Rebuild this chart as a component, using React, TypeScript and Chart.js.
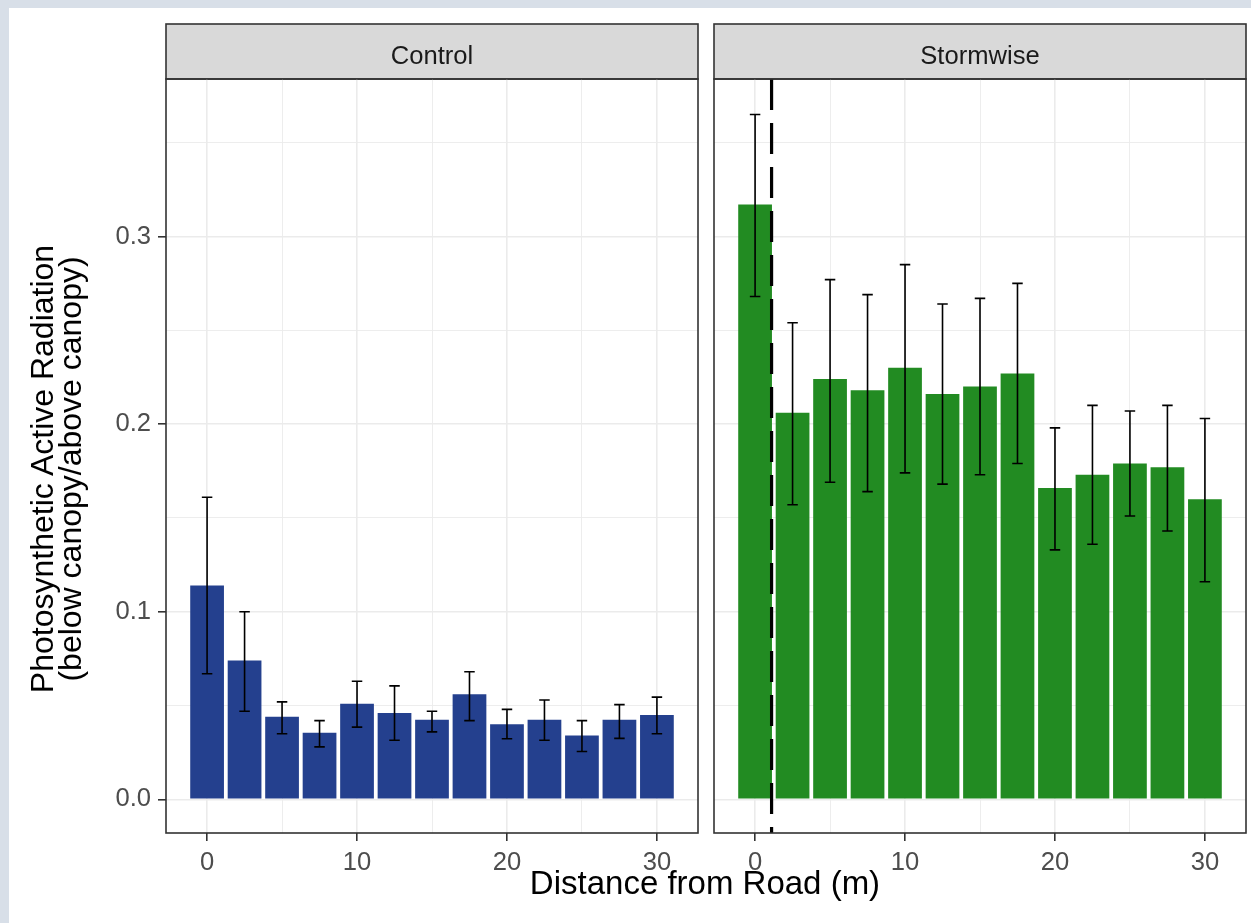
import React, { useEffect, useRef } from "react";
import { Chart, registerables } from "chart.js";

Chart.register(...registerables);

// ---------------- data ----------------
const panelNames = ["Control", "Stormwise"];
const distances = [0, 2.5, 5, 7.5, 10, 12.5, 15, 17.5, 20, 22.5, 25, 27.5, 30];

const controlMean = [0.114, 0.074, 0.044, 0.0355, 0.051, 0.046, 0.0425, 0.056, 0.040, 0.0425, 0.034, 0.0425, 0.045];
const controlLower = [0.067, 0.047, 0.035, 0.028, 0.0385, 0.0315, 0.036, 0.042, 0.0323, 0.0315, 0.0255, 0.0325, 0.035];
const controlUpper = [0.161, 0.100, 0.052, 0.042, 0.063, 0.0605, 0.047, 0.068, 0.048, 0.053, 0.042, 0.0505, 0.0545];

const stormMean = [0.317, 0.206, 0.224, 0.218, 0.230, 0.216, 0.220, 0.227, 0.166, 0.173, 0.179, 0.177, 0.160];
const stormLower = [0.268, 0.157, 0.169, 0.164, 0.174, 0.168, 0.173, 0.179, 0.133, 0.136, 0.151, 0.143, 0.116];
const stormUpper = [0.365, 0.254, 0.277, 0.269, 0.285, 0.264, 0.267, 0.275, 0.198, 0.210, 0.207, 0.210, 0.203];

const roadLineX = 1.1;

const xMajorTicks = [0, 10, 20, 30];
const yMajorTicks = [0, 0.1, 0.2, 0.3];
const xLimits = [-2.74, 32.74];
const yLimits = [-0.0179, 0.3839];

const yTitle = ["Photosynthetic Active Radiation", "(below canopy/above canopy)"];
const xTitle = "Distance from Road (m)";

// ---------------- styling ----------------
const FONT = '"Liberation Sans", Arial, Helvetica, sans-serif';
const STRIP_TOP = 24;

const isMajor = (v: number, list: number[]) => list.some((m) => Math.abs(m - v) < 1e-6);

const decorPlugin = {
  id: "panelDecor",
  beforeDraw(chart: any, _args: any, opts: any) {
    const { ctx, chartArea } = chart;
    const { left, right, top } = chartArea;
    ctx.save();
    ctx.fillStyle = "#d9d9d9";
    ctx.fillRect(left, STRIP_TOP, right - left, top - STRIP_TOP);
    ctx.strokeStyle = "#333333";
    ctx.lineWidth = 1.6;
    ctx.strokeRect(left, STRIP_TOP, right - left, top - STRIP_TOP);
    ctx.fillStyle = "#1a1a1a";
    ctx.font = `25.6px ${FONT}`;
    ctx.textAlign = "center";
    ctx.textBaseline = "middle";
    ctx.fillText(opts.label, (left + right) / 2, (STRIP_TOP + top) / 2 + 5);
    ctx.restore();
  },
  afterDatasetsDraw(chart: any, _args: any, opts: any) {
    const { ctx } = chart;
    const xs = chart.scales.x;
    const ys = chart.scales.y;
    ctx.save();
    ctx.strokeStyle = "#000000";
    ctx.lineWidth = 1.6;
    opts.xs.forEach((xv: number, i: number) => {
      const px = xs.getPixelForValue(xv);
      const half = xs.getPixelForValue(xv + 0.35) - px;
      const yTop = ys.getPixelForValue(opts.upper[i]);
      const yBot = ys.getPixelForValue(opts.lower[i]);
      ctx.beginPath();
      ctx.moveTo(px, yTop);
      ctx.lineTo(px, yBot);
      ctx.moveTo(px - half, yTop);
      ctx.lineTo(px + half, yTop);
      ctx.moveTo(px - half, yBot);
      ctx.lineTo(px + half, yBot);
      ctx.stroke();
    });
    ctx.restore();
  },
  afterDraw(chart: any) {
    const { ctx, chartArea } = chart;
    ctx.save();
    ctx.strokeStyle = "#333333";
    ctx.lineWidth = 1.6;
    ctx.strokeRect(chartArea.left, chartArea.top, chartArea.right - chartArea.left, chartArea.bottom - chartArea.top);
    ctx.restore();
  },
};

function makePanel(
  canvas: HTMLCanvasElement,
  cfg: {
    label: string;
    mean: number[];
    lower: number[];
    upper: number[];
    color: string;
    showY: boolean;
    padLeft: number;
    padRight: number;
    road?: number;
  }
) {
  const datasets: any[] = [
    {
      type: "bar",
      data: distances.map((d, i) => ({ x: d, y: cfg.mean[i] })),
      backgroundColor: cfg.color,
      borderWidth: 0,
      barPercentage: 0.9,
      categoryPercentage: 1,
      order: 2,
    },
  ];
  if (cfg.road !== undefined) {
    datasets.push({
      type: "line",
      data: [
        { x: cfg.road, y: yLimits[1] },
        { x: cfg.road, y: yLimits[0] },
      ],
      borderColor: "#000000",
      borderWidth: 3.2,
      borderDash: [31, 13],
      pointRadius: 0,
      fill: false,
      order: 1,
    });
  }

  const gridColor = "#ebebeb";

  return new Chart(canvas, {
    type: "bar",
    data: { datasets },
    plugins: [decorPlugin],
    options: {
      animation: false,
      responsive: false,
      devicePixelRatio: 1,
      layout: { padding: { left: cfg.padLeft, right: cfg.padRight, top: 79, bottom: 0 } },
      plugins: {
        legend: { display: false },
        tooltip: { enabled: false },
        title: { display: false },
        panelDecor: { label: cfg.label, xs: distances, lower: cfg.lower, upper: cfg.upper },
      } as any,
      scales: {
        x: {
          type: "linear",
          min: xLimits[0],
          max: xLimits[1],
          offset: false,
          border: { display: false },
          grid: {
            offset: false,
            color: gridColor,
            lineWidth: (c: any) => (isMajor(c.tick.value, xMajorTicks) ? 1.6 : 0.9),
            drawTicks: true,
            tickLength: 8,
            tickWidth: 1.6,
            tickColor: (c: any) => (isMajor(c.tick.value, xMajorTicks) ? "#333333" : "rgba(0,0,0,0)"),
          },
          ticks: {
            stepSize: 5,
            includeBounds: false,
            autoSkip: false,
            maxRotation: 0,
            padding: 7,
            color: "#4d4d4d",
            font: { family: FONT, size: 25.6 },
            callback: (v: any) => (isMajor(Number(v), xMajorTicks) ? String(v) : ""),
          },
          afterFit: (s: any) => {
            s.height = 90;
          },
        },
        y: {
          type: "linear",
          min: yLimits[0],
          max: yLimits[1],
          border: { display: false },
          grid: {
            color: gridColor,
            lineWidth: (c: any) => (isMajor(c.tick.value, yMajorTicks) ? 1.6 : 0.9),
            drawTicks: cfg.showY,
            tickLength: 8,
            tickWidth: 1.6,
            tickColor: (c: any) => (isMajor(c.tick.value, yMajorTicks) ? "#333333" : "rgba(0,0,0,0)"),
          },
          ticks: {
            display: cfg.showY,
            stepSize: 0.05,
            includeBounds: false,
            padding: 7,
            color: "#4d4d4d",
            font: { family: FONT, size: 25.6 },
            callback: (v: any) => (isMajor(Number(v), yMajorTicks) ? Number(v).toFixed(1) : ""),
          },
          afterFit: (s: any) => {
            s.width = cfg.showY ? 166 : 0;
          },
        },
      },
    } as any,
  });
}

export default function App() {
  const leftRef = useRef<HTMLCanvasElement>(null);
  const rightRef = useRef<HTMLCanvasElement>(null);

  useEffect(() => {
    const c1 = makePanel(leftRef.current!, {
      label: panelNames[0],
      mean: controlMean,
      lower: controlLower,
      upper: controlUpper,
      color: "#24408e",
      showY: true,
      padLeft: 0,
      padRight: 8,
    });
    const c2 = makePanel(rightRef.current!, {
      label: panelNames[1],
      mean: stormMean,
      lower: stormLower,
      upper: stormUpper,
      color: "#228b22",
      showY: false,
      padLeft: 8,
      padRight: 5,
      road: roadLineX,
    });
    return () => {
      c1.destroy();
      c2.destroy();
    };
  }, []);

  return (
    <div
      style={{
        position: "absolute",
        left: 0,
        top: 0,
        width: 1251,
        height: 923,
        background: "#d8dfe8",
        overflow: "hidden",
      }}
    >
      <div style={{ position: "absolute", left: 9, top: 8, right: 0, bottom: 0, background: "#ffffff" }} />
      <canvas
        ref={leftRef}
        width={706}
        height={923}
        style={{ position: "absolute", left: 0, top: 0, width: 706, height: 923 }}
      />
      <canvas
        ref={rightRef}
        width={545}
        height={923}
        style={{ position: "absolute", left: 706, top: 0, width: 545, height: 923 }}
      />
      <div
        style={{
          position: "absolute",
          left: 56 - 240,
          top: 469 - 28,
          width: 480,
          height: 56,
          transform: "rotate(-90deg)",
          transformOrigin: "50% 50%",
          textAlign: "center",
          fontFamily: FONT,
          fontSize: 32,
          lineHeight: "28px",
          color: "#000000",
          whiteSpace: "nowrap",
        }}
      >
        <div>{yTitle[0]}</div>
        <div>{yTitle[1]}</div>
      </div>
      <div
        style={{
          position: "absolute",
          left: 405,
          width: 600,
          top: 866,
          textAlign: "center",
          fontFamily: FONT,
          fontSize: 33,
          lineHeight: "33px",
          color: "#000000",
          whiteSpace: "nowrap",
        }}
      >
        {xTitle}
      </div>
    </div>
  );
}
